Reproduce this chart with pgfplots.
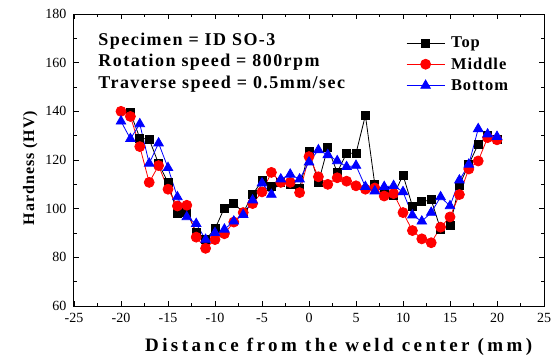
\documentclass[border=0pt]{standalone}
\usepackage{fontspec}
\setmainfont{Liberation Serif}
\newfontfamily\spaced[LetterSpace=6]{Liberation Serif}
\newfontfamily\spacedb[LetterSpace=8]{Liberation Serif}
\newfontfamily\spacedx[LetterSpace=18]{Liberation Serif}
\usepackage{pgfplots}
\pgfplotsset{compat=1.18}
\begin{document}
\begin{tikzpicture}
\begin{axis}[
  name=ax,
  scale only axis, width=470pt, height=292pt,
  xmin=-25, xmax=25, ymin=60, ymax=180,
  xtick={-25,-20,...,25}, ytick={60,80,...,180},
  minor x tick num=1, minor y tick num=1,
  tick align=inside,
  major tick length=5pt, minor tick length=3pt,
  tick style={black, line width=0.8pt},
  axis line style={line width=1pt},
  /pgf/number format/assume math mode=true,
  ticklabel style={font=\fontsize{14}{15}\selectfont},
  xticklabel style={yshift=-4pt},
  yticklabel style={xshift=-4pt},
  xlabel={Distance from the weld center (mm)},
  ylabel={Hardness (HV)},
  xlabel style={font=\spacedx\bfseries\fontsize{19}{20}\selectfont,
    at={(axis description cs:0.5632,-0.157)}, anchor=base},
  ylabel style={font=\spaced\bfseries\fontsize{16}{17}\selectfont,
    at={(axis description cs:-0.085,0.4726)}, anchor=base},
  legend style={draw=none, fill=none, inner sep=0pt,
    at={(axis description cs:0.7064,0.929)}, anchor=north west,
    font=\spaced\bfseries\fontsize{16.5}{17}\selectfont, row sep=5.3pt, column sep=6pt,
    nodes={inner sep=0pt, text height=13pt, text depth=3pt}},
  legend cell align=left,
  legend image code/.code={\draw[mark repeat=2, mark phase=2, #1] plot coordinates {(0pt,0pt) (19pt,0pt) (38pt,0pt)};},
]
\addplot[black, line width=0.8pt, mark=square*, mark size=4pt, mark options={solid}] coordinates {
(-19,139.5) (-18,129) (-17,128.5) (-16,118.5) (-15,110.8) (-14,98) (-13,98.6) (-12,90.3)
(-11,87.3) (-10,91.7) (-9,100.3) (-8,102.3) (-7,98.4) (-6,105.8) (-5,111.5) (-4,109)
(-3,110.8) (-2,110) (-1,108.5) (0,123.7) (1,110.8) (2,125.1) (3,114.9) (4,122.8)
(5,122.8) (6,138.3) (7,110) (8,107.2) (9,105.5) (10,113.8) (11,101.1) (12,102.8)
(13,103.7) (14,91.5) (15,93.1) (16,109.7) (17,118.2) (18,126.5) (19,130) (20,128.3)
};
\addlegendentry{Top}
\addplot[red, line width=0.8pt, mark=*, mark size=5pt, mark options={solid, fill=red, draw=red}] coordinates {
(-20,140) (-19,137.9) (-18,125.5) (-17,110.8) (-16,117.7) (-15,108) (-14,101.1) (-13,101.4)
(-12,88.3) (-11,83.7) (-10,87.3) (-9,89.7) (-8,94.5) (-7,98.4) (-6,102.1) (-5,106.9)
(-4,114.9) (-3,110.8) (-2,110.8) (-1,106.6) (0,121.4) (1,113.1) (2,110) (3,112.7)
(4,111.3) (5,109.4) (6,108) (7,108.5) (8,105.2) (9,106.2) (10,98.4) (11,91)
(12,87.6) (13,86) (14,92.4) (15,96.6) (16,105.8) (17,116.3) (18,119.6) (19,129.2) (20,128.3)
};
\addlegendentry{Middle}
\addplot[blue, line width=0.8pt, mark=triangle*, mark size=5.5pt, mark options={solid, fill=blue, draw=blue}] coordinates {
(-20,135.9) (-19,128.7) (-18,134.8) (-17,118.6) (-16,126.9) (-15,116.8) (-14,104.8) (-13,96.6)
(-12,93.8) (-11,87.3) (-10,90.1) (-9,91.5) (-8,94.8) (-7,97.5) (-6,103.5) (-5,110.5)
(-4,105.8) (-3,112.1) (-2,114.1) (-1,112.1) (0,119.1) (1,124.1) (2,122.1) (3,119.6)
(4,117.2) (5,117.7) (6,109) (7,107.2) (8,109) (9,109.4) (10,106.9) (11,97.3)
(12,94.8) (13,98.4) (14,104.8) (15,101.1) (16,111.7) (17,118.2) (18,132.8) (19,130.6) (20,129.6)
};
\addlegendentry{Bottom}
\node[anchor=base west, font=\spacedb\bfseries\fontsize{18}{19}\selectfont]
  at (axis description cs:0.0446,0.8914) {Specimen = ID SO-3};
\node[anchor=base west, font=\spacedb\bfseries\fontsize{18}{19}\selectfont]
  at (axis description cs:0.0446,0.8185) {Rotation speed = 800rpm};
\node[anchor=base west, font=\spacedb\bfseries\fontsize{18}{19}\selectfont]
  at (axis description cs:0.0446,0.7455) {Traverse speed = 0.5mm/sec};
\end{axis}
\path ([shift={(-74pt,-49pt)}]ax.south west) rectangle ([shift={(14pt,14pt)}]ax.north east);
\end{tikzpicture}
\end{document}
